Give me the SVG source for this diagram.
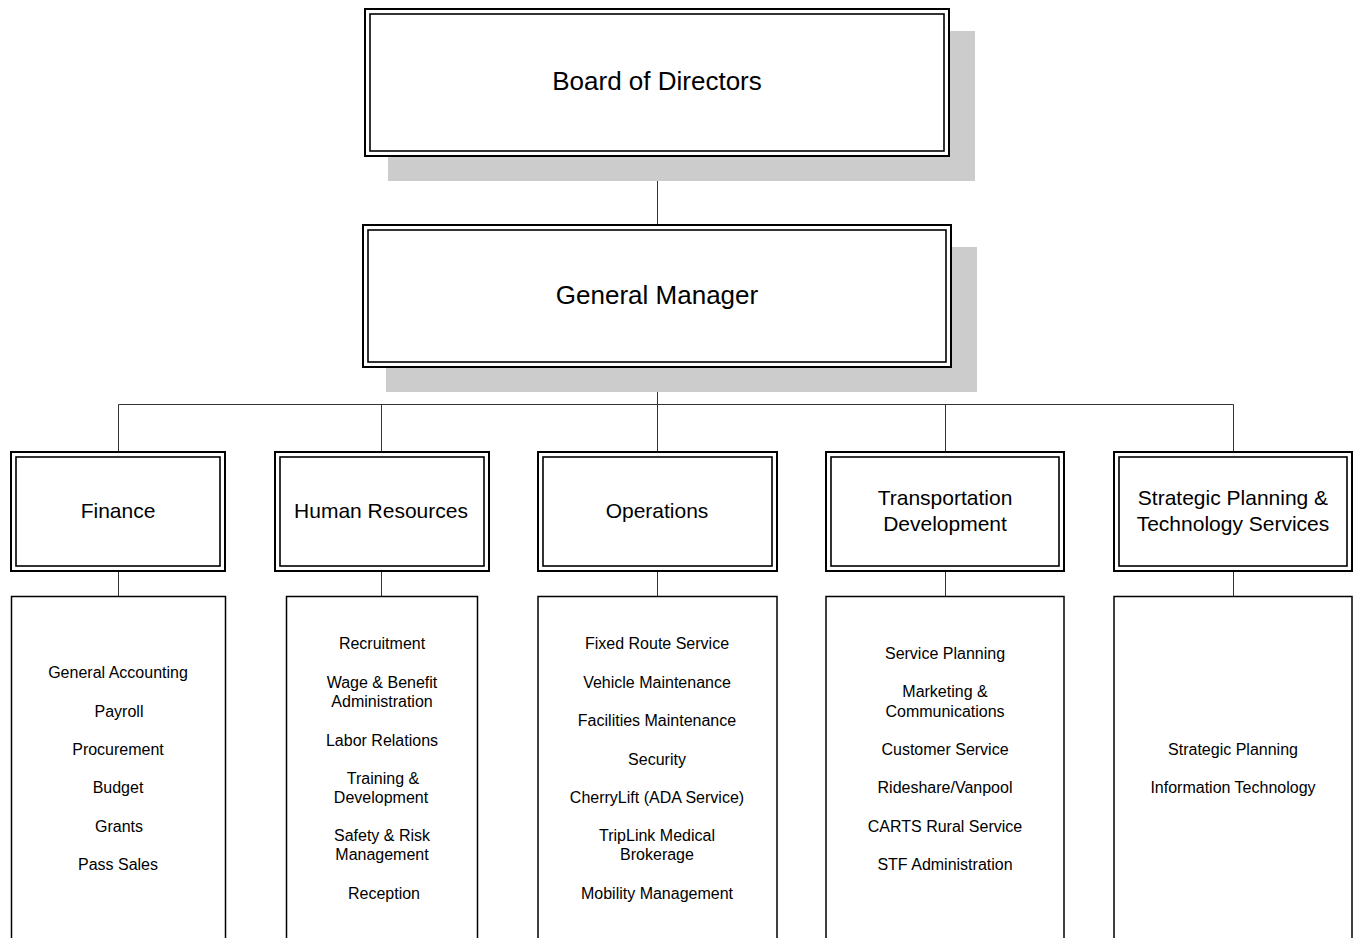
<svg xmlns="http://www.w3.org/2000/svg" width="1353" height="938" viewBox="0 0 1353 938">
<style>
.shadow{fill:#cccccc;stroke:none}
.outer{fill:#ffffff;stroke:#000;stroke-width:2}
.inner{fill:none;stroke:#000;stroke-width:1.6}
.list{fill:#ffffff;stroke:#000;stroke-width:1.5}
.conn{fill:none;stroke:#333;stroke-width:1}
text{font-family:"Liberation Sans",Arial,sans-serif;fill:#000;text-anchor:middle}
.t1{font-size:26px}
.t2{font-size:21px}
.t3{font-size:16px}
</style>
<rect width="1353" height="938" fill="#ffffff"/>
<g id="connectors">
<path class="conn" d="M657.5 157V225M657.5 368V404.5M118.5 404.5H1233.5M118.5 404.5V452M381.5 404.5V452M945.5 404.5V452M1233.5 404.5V452M657.5 404.5V452"/>
<path class="conn" d="M118.5 571V596M381.5 571V596M657.5 571V596M945.5 571V596M1233.5 571V596"/>
</g>
<g id="board">
<rect class="shadow" x="388" y="31" width="587" height="150"/>
<rect class="outer" x="365" y="9" width="584" height="147"/>
<rect class="inner" x="370" y="14" width="574" height="137"/>
<text class="t1" x="657" y="90">Board of Directors</text>
</g>
<g id="gm">
<rect class="shadow" x="386" y="247" width="591" height="145"/>
<rect class="outer" x="363" y="225" width="588" height="142"/>
<rect class="inner" x="368" y="230" width="578" height="132"/>
<text class="t1" x="657" y="304">General Manager</text>
</g>
<g id="finance">
<rect class="outer" x="11" y="452" width="214" height="119"/>
<rect class="inner" x="16" y="457" width="204" height="109"/>
<text class="t2" x="118" y="518">Finance</text>
</g>
<g id="hr">
<rect class="outer" x="275" y="452" width="214" height="119"/>
<rect class="inner" x="280" y="457" width="204" height="109"/>
<text class="t2" x="381" y="518">Human Resources</text>
</g>
<g id="operations">
<rect class="outer" x="538" y="452" width="239" height="119"/>
<rect class="inner" x="543" y="457" width="229" height="109"/>
<text class="t2" x="657" y="518">Operations</text>
</g>
<g id="transportation">
<rect class="outer" x="826" y="452" width="238" height="119"/>
<rect class="inner" x="831" y="457" width="228" height="109"/>
<text class="t2" x="945" y="505">Transportation</text>
<text class="t2" x="945" y="531">Development</text>
</g>
<g id="strategic">
<rect class="outer" x="1114" y="452" width="238" height="119"/>
<rect class="inner" x="1119" y="457" width="228" height="109"/>
<text class="t2" x="1233" y="505">Strategic Planning &amp;</text>
<text class="t2" x="1233" y="531">Technology Services</text>
</g>
<g id="finance-list">
<rect class="list" x="11.5" y="596.5" width="214" height="400"/>
<text class="t3" x="118" y="678">General Accounting</text>
<text class="t3" x="119" y="717">Payroll</text>
<text class="t3" x="118" y="755">Procurement</text>
<text class="t3" x="118" y="793">Budget</text>
<text class="t3" x="119" y="832">Grants</text>
<text class="t3" x="118" y="870">Pass Sales</text>
</g>
<g id="hr-list">
<rect class="list" x="286.5" y="596.5" width="191" height="400"/>
<text class="t3" x="382" y="649">Recruitment</text>
<text class="t3" x="382" y="688">Wage &amp; Benefit</text>
<text class="t3" x="382" y="707">Administration</text>
<text class="t3" x="382" y="746">Labor Relations</text>
<text class="t3" x="383" y="784">Training &amp;</text>
<text class="t3" x="381" y="803">Development</text>
<text class="t3" x="382" y="841">Safety &amp; Risk</text>
<text class="t3" x="382" y="860">Management</text>
<text class="t3" x="384" y="899">Reception</text>
</g>
<g id="operations-list">
<rect class="list" x="538" y="596.5" width="239" height="400"/>
<text class="t3" x="657" y="649">Fixed Route Service</text>
<text class="t3" x="657" y="688">Vehicle Maintenance</text>
<text class="t3" x="657" y="726">Facilities Maintenance</text>
<text class="t3" x="657" y="765">Security</text>
<text class="t3" x="657" y="803">CherryLift (ADA Service)</text>
<text class="t3" x="657" y="841">TripLink Medical</text>
<text class="t3" x="657" y="860">Brokerage</text>
<text class="t3" x="657" y="899">Mobility Management</text>
</g>
<g id="transportation-list">
<rect class="list" x="826" y="596.5" width="238" height="400"/>
<text class="t3" x="945" y="659">Service Planning</text>
<text class="t3" x="945" y="697">Marketing &amp;</text>
<text class="t3" x="945" y="717">Communications</text>
<text class="t3" x="945" y="755">Customer Service</text>
<text class="t3" x="945" y="793">Rideshare/Vanpool</text>
<text class="t3" x="945" y="832">CARTS Rural Service</text>
<text class="t3" x="945" y="870">STF Administration</text>
</g>
<g id="strategic-list">
<rect class="list" x="1114" y="596.5" width="238" height="400"/>
<text class="t3" x="1233" y="755">Strategic Planning</text>
<text class="t3" x="1233" y="793">Information Technology</text>
</g>
</svg>
